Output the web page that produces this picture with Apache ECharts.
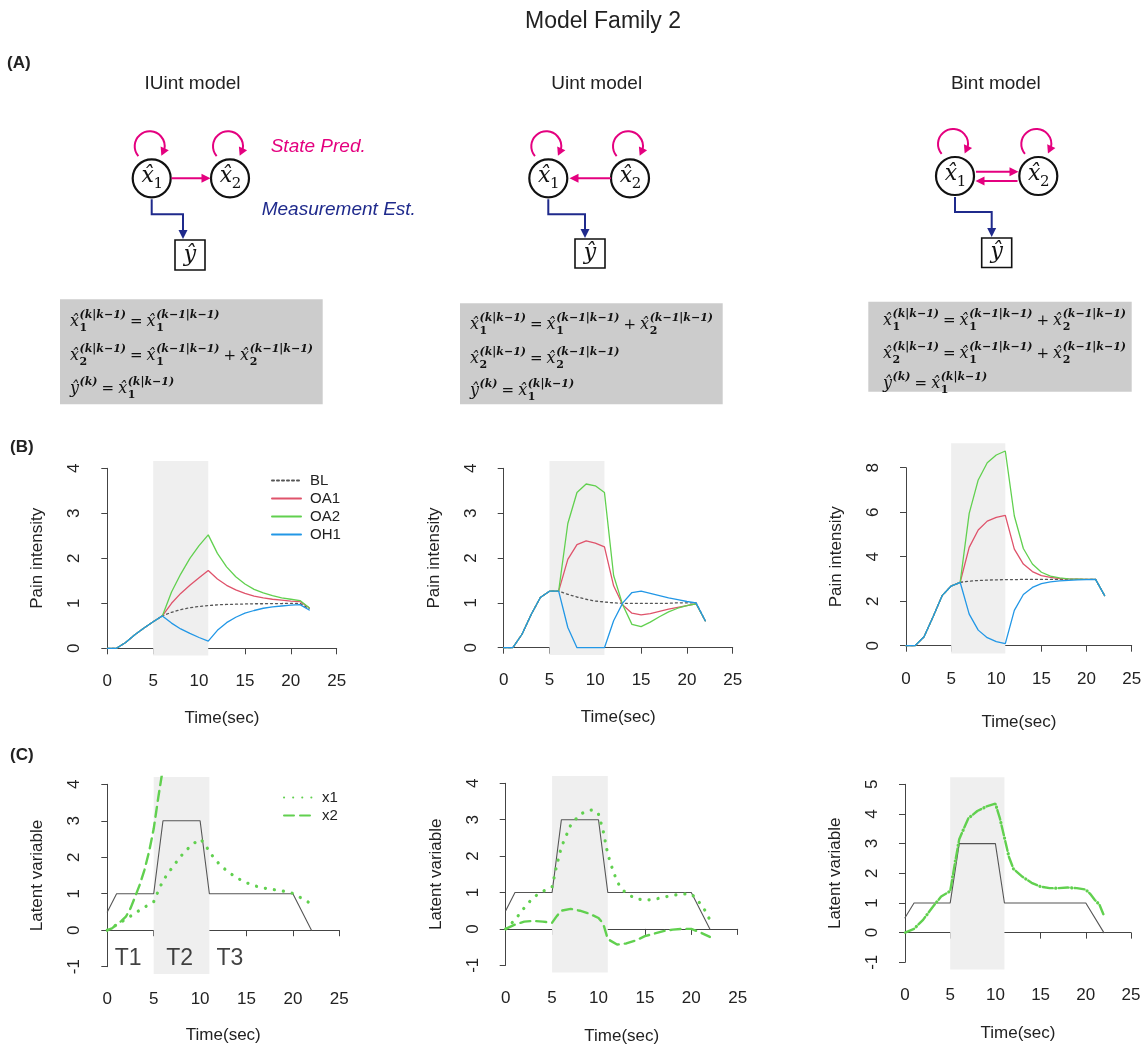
<!DOCTYPE html>
<html>
<head>
<meta charset="utf-8">
<script src="https://cdn.jsdelivr.net/npm/echarts@6/dist/echarts.min.js"></script>
<style>
  html, body { margin: 0; background: #fff; }
  #chart { width: 1146px; height: 1047px; }
</style>
</head>
<body>
<div id="chart"></div>
<script>
// ---- data ----
const secs = [0,1,2,3,4,5,6,7,8,9,10,11,12,13,14,15,16,17,18,19,20,21,22]

// (B) predicted pain, one value per second
const b1BL  = [0,0,0.13,0.3,0.45,0.59,0.72,0.8,0.86,0.9,0.93,0.95,0.965,0.975,0.98,0.985,0.99,0.99,0.995,0.995,1.0,1.0,0.88]
const b1OA1 = [0,0,0.13,0.3,0.45,0.59,0.72,1.0,1.22,1.4,1.57,1.73,1.54,1.4,1.3,1.22,1.16,1.12,1.09,1.07,1.05,1.04,0.9]
const b1OA2 = [0,0,0.13,0.3,0.45,0.59,0.72,1.25,1.65,2.0,2.28,2.52,2.11,1.81,1.59,1.43,1.31,1.23,1.17,1.12,1.09,1.06,0.9]
const b1OH1 = [0,0,0.13,0.3,0.45,0.59,0.72,0.56,0.43,0.33,0.24,0.16,0.4,0.57,0.69,0.78,0.84,0.89,0.92,0.94,0.96,0.97,0.85]

const b2BL  = [0,0,0.3,0.74,1.12,1.26,1.26,1.19,1.13,1.08,1.04,1.02,1.0,0.99,0.99,0.99,0.99,0.99,0.99,1.0,1.0,1.0,0.6]
const b2OA1 = [0,0,0.3,0.74,1.12,1.26,1.26,1.97,2.3,2.38,2.33,2.25,1.38,0.95,0.77,0.73,0.76,0.81,0.86,0.9,0.94,0.98,0.6]
const b2OA2 = [0,0,0.3,0.74,1.12,1.26,1.26,2.77,3.46,3.65,3.61,3.46,1.61,0.95,0.52,0.47,0.57,0.69,0.8,0.88,0.94,0.98,0.6]
const b2OH1 = [0,0,0.3,0.74,1.12,1.26,1.26,0.45,0,0,0,0,0.6,1.0,1.23,1.26,1.21,1.16,1.11,1.07,1.03,1.0,0.6]

const b3BL  = [0,0,0.4,1.3,2.25,2.68,2.85,2.9,2.93,2.95,2.96,2.97,2.97,2.98,2.98,2.98,2.98,2.98,2.98,2.98,2.98,2.98,2.25]
const b3OA1 = [0,0,0.4,1.3,2.25,2.68,2.85,4.42,5.2,5.6,5.77,5.86,4.34,3.67,3.33,3.15,3.07,3.02,3.0,2.99,2.98,2.98,2.25]
const b3OA2 = [0,0,0.4,1.3,2.25,2.68,2.85,5.95,7.45,8.22,8.57,8.75,5.83,4.37,3.67,3.3,3.13,3.05,3.0,2.99,2.98,2.98,2.25]
const b3OH1 = [0,0,0.4,1.3,2.25,2.68,2.85,1.42,0.7,0.36,0.18,0.09,1.59,2.3,2.62,2.79,2.87,2.91,2.94,2.96,2.97,2.98,2.25]

// (C) stimulus input and latent states
const inputT = [0,1,5,6,10,11,20,22]
const inputV = [0.5,1,1,3,3,1,1,0]

const c1X1T = [0,1,2,3,4,5,5.5,6,7,8,9,10,10.5,11,12,13,14,15,16,17,18,19,20,21,22]
const c1X1V = [0,0.15,0.3,0.47,0.63,0.78,1.08,1.36,1.72,2.05,2.32,2.5,2.38,2.14,1.83,1.6,1.43,1.3,1.21,1.15,1.11,1.07,1.01,0.87,0.72]
const c1X2T = [0,0.5,1,1.5,2,2.5,3,3.5,4,4.5,5,5.5,6,6.5]
const c1X2V = [0,0.05,0.15,0.25,0.37,0.6,0.92,1.25,1.65,2.15,2.78,3.65,4.45,5.6]

const c2X1T = [0,1,2,3,4,5,5.5,6,7,8,9,9.5,10,10.5,11,11.5,12,12.5,13,14,15,16,17,18,19,20,20.5,21,21.5,22]
const c2X1V = [0,0.25,0.58,0.87,1.03,1.15,1.75,2.25,2.85,3.15,3.26,3.27,3.15,2.7,2.05,1.65,1.3,1.1,0.98,0.83,0.79,0.81,0.87,0.92,0.96,0.96,0.84,0.68,0.5,0.25]
const c2X2T = [0,1,2,3,4,5,5.5,6,7,8,9,10,10.5,11,12,13,14,15,16,17,18,19,20,21,22]
const c2X2V = [0,0.12,0.2,0.22,0.2,0.17,0.35,0.5,0.55,0.5,0.42,0.3,0.15,-0.28,-0.43,-0.4,-0.32,-0.2,-0.13,-0.06,-0.02,0,0,-0.1,-0.22]

const c3X1T = [0,1,2,3,4,5,5.5,6,7,8,9,10,10.5,11,11.5,12,13,14,15,16,17,18,19,20,20.5,21,21.5,22]
const c3X1V = [0,0.13,0.43,0.84,1.22,1.4,2.3,3.15,3.85,4.1,4.25,4.35,3.85,3.2,2.55,2.15,1.88,1.68,1.55,1.5,1.5,1.52,1.5,1.45,1.3,1.1,0.95,0.58]
const c3X2T = c3X1T
const c3X2V = c3X1V

const phaseLabels = ['T1', 'T2', 'T3']
const phaseX = [2.25, 7.8, 13.2]
const phaseY = [-0.77, -0.77, -0.77]

// ---- layout ----
const FONT = '"Liberation Sans", Arial, sans-serif'
const SERIF = '"DejaVu Serif", serif'
const MAG = '#E4007F'
const NAVY = '#1F2A8C'
const col = { BL: '#555555', OA1: '#DF536B', OA2: '#61D04F', OH1: '#2297E6' }
const GREEN = '#61D04F'
const SHADE = '#EFEFEF'

// pixel frame of each panel: x=0 / x=25 and lowest / highest y tick
const panels = [
    { x0: 107.3, x25: 336.7, yTop: 468.3, yBot: 648.3, yMin: 0, yMax: 4, yStep: 1, lo: -0.16, hi: 4.16, yName: 'Pain intensity', xGap: 54 },
    { x0: 503.7, x25: 732.7, yTop: 468.3, yBot: 647.7, yMin: 0, yMax: 4, yStep: 1, lo: -0.16, hi: 4.16, yName: 'Pain intensity', xGap: 54 },
    { x0: 906, x25: 1131.7, yTop: 467.7, yBot: 645.7, yMin: 0, yMax: 8, yStep: 2, lo: -0.35, hi: 9.1, yName: 'Pain intensity', xGap: 60 },
    { x0: 107.3, x25: 339.3, yTop: 784.3, yBot: 966.7, yMin: -1, yMax: 4, yStep: 1, lo: -1.2, hi: 4.2, yName: 'Latent variable', xGap: 53 },
    { x0: 505.7, x25: 737.7, yTop: 783.3, yBot: 965.3, yMin: -1, yMax: 4, yStep: 1, lo: -1.2, hi: 4.2, yName: 'Latent variable', xGap: 55 },
    { x0: 905, x25: 1131, yTop: 784.3, yBot: 962.3, yMin: -1, yMax: 5, yStep: 1, lo: -1.24, hi: 5.24, yName: 'Latent variable', xGap: 55 }
]

const grids = [], xAxes = [], yAxes = []
panels.forEach(function(p, i) {
    const ppx = (p.x25 - p.x0) / 25
    const ppy = (p.yBot - p.yTop) / (p.yMax - p.yMin)
    // plot region (R's usr), holds the data
    grids.push({ left: p.x0 - ppx, top: p.yTop - (p.hi - p.yMax) * ppy, width: 27 * ppx, height: (p.hi - p.lo) * ppy, outerBoundsMode: 'none' })
    // tick range frame, holds the detached axes
    grids.push({ left: p.x0, top: p.yTop, width: p.x25 - p.x0, height: p.yBot - p.yTop, outerBoundsMode: 'none' })
    xAxes.push({ gridIndex: 2 * i, type: 'value', min: -1, max: 26, show: false })
    yAxes.push({ gridIndex: 2 * i, type: 'value', min: p.lo, max: p.hi, show: false })
    xAxes.push({
        gridIndex: 2 * i + 1, type: 'value', min: 0, max: 25, interval: 5,
        offset: (p.yMin - p.lo) * ppy,
        name: 'Time(sec)', nameLocation: 'middle', nameGap: p.xGap, nameMoveOverlap: false,
        nameTextStyle: { fontSize: 17, color: '#222', fontFamily: FONT },
        axisLine: { show: true, lineStyle: { color: '#444', width: 1 } },
        axisTick: { show: true, length: 6, lineStyle: { color: '#444' } },
        axisLabel: { fontSize: 17, color: '#222', margin: 17, fontFamily: FONT },
        splitLine: { show: false }
    })
    yAxes.push({
        gridIndex: 2 * i + 1, type: 'value', min: p.yMin, max: p.yMax, interval: p.yStep,
        offset: ppx,
        name: p.yName, nameLocation: 'middle', nameGap: 52, nameMoveOverlap: false,
        nameTextStyle: { fontSize: 17, color: '#222', fontFamily: FONT },
        axisLine: { show: true, lineStyle: { color: '#444', width: 1 } },
        axisTick: { show: true, length: 6, lineStyle: { color: '#444' } },
        axisLabel: { fontSize: 17, color: '#222', margin: 15, rotate: 90, fontFamily: FONT },
        splitLine: { show: false }
    })
})

function pairs(xs, ys) {
    return xs.map(function(x, k) { return [x, ys[k]] })
}

function line(name, xs, ys, gi, color, width, type, shade, dashOffset) {
    const s = {
        type: 'line', name: name, xAxisIndex: gi, yAxisIndex: gi,
        data: pairs(xs, ys), symbol: 'none', clip: true, silent: true,
        itemStyle: { color: color },
        lineStyle: { color: color, width: width, type: type || 'solid', cap: 'round', dashOffset: dashOffset || 0 },
        z: 3
    }
    if (shade) {
        s.z = 2
        s.markArea = { silent: true, itemStyle: { color: SHADE }, data: [[{ xAxis: 5 }, { xAxis: 11 }]] }
    }
    return s
}

const bSets = [[b1BL, b1OA1, b1OA2, b1OH1], [b2BL, b2OA1, b2OA2, b2OH1], [b3BL, b3OA1, b3OA2, b3OH1]]
const cSets = [[c1X1T, c1X1V, c1X2T, c1X2V], [c2X1T, c2X1V, c2X2T, c2X2V], [c3X1T, c3X1V, c3X2T, c3X2V]]

const series = []
bSets.forEach(function(set, i) {
    const gi = 2 * i
    series.push(line('BL', secs, set[0], gi, col.BL, 1.3, [2, 3], true))
    series.push(line('OA1', secs, set[1], gi, col.OA1, 1.3))
    series.push(line('OA2', secs, set[2], gi, col.OA2, 1.3))
    series.push(line('OH1', secs, set[3], gi, col.OH1, 1.3))
})
cSets.forEach(function(set, i) {
    const gi = 2 * (i + 3)
    series.push(line('input', inputT, inputV, gi, '#555555', 1.1, 'solid', true))
    // in the last panel both states coincide: put the dots into the dash gaps
    if (i === 2) {
        series.push(line('x1', set[0], set[1], gi, GREEN, 3.2, [0.1, 15.9], false, 3))
    } else {
        series.push(line('x1', set[0], set[1], gi, GREEN, 3.2, [0.1, 9]))
    }
    series.push(line('x2', set[2], set[3], gi, GREEN, 2.4, [10, 6]))
})
series.push({
    type: 'scatter', name: 'phase', xAxisIndex: 6, yAxisIndex: 6, silent: true,
    data: phaseLabels.map(function(t, k) { return { name: t, value: [phaseX[k], phaseY[k]] } }),
    symbolSize: 1, itemStyle: { color: 'rgba(0,0,0,0)' },
    label: { show: true, position: 'inside', formatter: function(p) { return p.name }, fontSize: 23, color: '#111', fontFamily: FONT },
    z: 4
})

// ---- panel (A): diagrams and equation boxes ----
const g = []
function txt(x, y, s, o) {
    o = o || {}
    return {
        type: 'text', x: x, y: y, silent: true, z: 10,
        style: {
            text: s, fontSize: o.size || 17, fontFamily: o.family || FONT,
            fontStyle: o.style || 'normal', fontWeight: o.weight || 'normal',
            fill: o.color || '#222', align: o.align || 'left', verticalAlign: 'middle'
        }
    }
}
function head(tx, ty, dx, dy, color, len, hw) {
    len = len || 9; hw = hw || 4.5
    const n = Math.hypot(dx, dy); dx /= n; dy /= n
    const bx = tx - dx * len, by = ty - dy * len
    return { type: 'polygon', silent: true, z: 10, shape: { points: [[tx, ty], [bx - dy * hw, by + dx * hw], [bx + dy * hw, by - dx * hw]] }, style: { fill: color } }
}
function arrow(x1, y1, x2, y2, color) {
    const dx = x2 - x1, dy = y2 - y1, n = Math.hypot(dx, dy)
    g.push({ type: 'line', silent: true, z: 10, shape: { x1: x1, y1: y1, x2: x2 - dx / n * 7, y2: y2 - dy / n * 7 }, style: { stroke: color, lineWidth: 2 } })
    g.push(head(x2, y2, dx, dy, color))
}
function loop(cx, cy) {
    const lx = cx - 2, ly = cy - 32, r = 15
    const a0 = 2.43, a1 = 0.68 + 2 * Math.PI, ab = a1 - 0.5
    g.push({ type: 'arc', silent: true, z: 10, shape: { cx: lx, cy: ly, r: r, startAngle: a0, endAngle: ab + 0.05, clockwise: true }, style: { stroke: MAG, lineWidth: 2, fill: null } })
    const tx = lx + r * Math.cos(a1), ty = ly + r * Math.sin(a1)
    const bx = lx + r * Math.cos(ab), by = ly + r * Math.sin(ab)
    g.push(head(tx, ty, tx - bx, ty - by, MAG, 8, 4.5))
}
function node(cx, cy, sub) {
    g.push({ type: 'circle', silent: true, z: 10, shape: { cx: cx, cy: cy, r: 19 }, style: { fill: '#fff', stroke: '#111', lineWidth: 2.2 } })
    g.push(txt(cx - 4, cy - 2, 'x\u0302', { size: 22, family: SERIF, style: 'italic', align: 'center', color: '#111' }))
    g.push(txt(cx + 6.5, cy + 6, sub, { size: 15, family: SERIF, align: 'center', color: '#111' }))
    loop(cx, cy)
}
function measure(cx, cy, bx, boxX, boxY, boxW, boxH) {
    g.push({ type: 'polyline', silent: true, z: 10, shape: { points: [[cx, cy + 21], [cx, cy + 36], [bx, cy + 36], [bx, boxY - 8]] }, style: { stroke: NAVY, lineWidth: 2, fill: null } })
    g.push(head(bx, boxY - 1, 0, 1, NAVY))
    g.push({ type: 'rect', silent: true, z: 10, shape: { x: boxX, y: boxY, width: boxW, height: boxH }, style: { fill: '#fff', stroke: '#111', lineWidth: 1.6 } })
    g.push(txt(boxX + boxW / 2, boxY + boxH / 2, '\u0177', { size: 22, family: SERIF, style: 'italic', align: 'center', color: '#111' }))
}

g.push(txt(603, 22, 'Model Family 2', { size: 23, align: 'center' }))
g.push(txt(7, 63, '(A)', { size: 17, weight: 'bold' }))
g.push(txt(10, 447, '(B)', { size: 17, weight: 'bold' }))
g.push(txt(10, 755, '(C)', { size: 17, weight: 'bold' }))
g.push(txt(192.5, 83.5, 'IUint model', { size: 19, align: 'center' }))
g.push(txt(596.7, 83.5, 'Uint model', { size: 19, align: 'center' }))
g.push(txt(995.8, 83.5, 'Bint model', { size: 19, align: 'center' }))
g.push(txt(270.7, 147, 'State Pred.', { size: 19, style: 'italic', color: MAG }))
g.push(txt(261.7, 210, 'Measurement Est.', { size: 19, style: 'italic', color: NAVY }))

// IUint
node(151.7, 178.3, '1'); node(230, 178.3, '2')
arrow(171.5, 178.3, 210.5, 178.3, MAG)
measure(151.7, 178.3, 183, 175, 240, 30, 30)
// Uint
node(548.3, 178.3, '1'); node(630, 178.3, '2')
arrow(611, 178.3, 569.5, 178.3, MAG)
measure(548.3, 178.3, 585, 575, 239, 30, 29)
// Bint
node(955, 176, '1'); node(1038.3, 176, '2')
arrow(976, 171.7, 1018.5, 171.7, MAG)
arrow(1017.5, 181, 975.5, 181, MAG)
measure(955, 176, 991.7, 981.7, 238, 30, 29.5)

// equation boxes
const mctx = document.createElement('canvas').getContext('2d')
function tw(s, size, style, weight) {
    mctx.font = (style || 'normal') + ' ' + (weight || 'normal') + ' ' + size + 'px ' + SERIF
    return mctx.measureText(s).width
}
function eq(x, y, toks) {
    toks.forEach(function(t) {
        if (t.op) {
            x += 4
            g.push(txt(x, y, t.op, { size: 15, family: SERIF, color: '#111' }))
            x += tw(t.op, 15) + 4
            return
        }
        g.push(txt(x, y, t.b, { size: 16, family: SERIF, style: 'italic', color: '#111' }))
        const bw = tw(t.b, 16, 'italic') + 0.5
        let w = 0
        if (t.sup) {
            g.push(txt(x + bw, y - 7, t.sup, { size: 11, family: SERIF, style: 'italic', weight: 'bold', color: '#111' }))
            w = Math.max(w, tw(t.sup, 11, 'italic', 'bold'))
        }
        if (t.sub) {
            g.push(txt(x + bw, y + 6, t.sub, { size: 11, family: SERIF, weight: 'bold', color: '#111' }))
            w = Math.max(w, tw(t.sub, 11, 'normal', 'bold'))
        }
        x += bw + w
    })
}
const P = '(k|k\u22121)', Q = '(k\u22121|k\u22121)', XH = 'x\u0302'
const EQ = { op: '=' }, PL = { op: '+' }
const yk = [{ b: '\u0177', sup: '(k)' }, EQ, { b: XH, sub: '1', sup: P }]
const boxes = [
    { x: 60, y: 299.3, w: 262.7, h: 105, tx: 70, ly: [322, 356, 389], lines: [
        [{ b: XH, sub: '1', sup: P }, EQ, { b: XH, sub: '1', sup: Q }],
        [{ b: XH, sub: '2', sup: P }, EQ, { b: XH, sub: '1', sup: Q }, PL, { b: XH, sub: '2', sup: Q }],
        yk] },
    { x: 460, y: 303.3, w: 262.7, h: 101, tx: 470, ly: [325, 359, 391], lines: [
        [{ b: XH, sub: '1', sup: P }, EQ, { b: XH, sub: '1', sup: Q }, PL, { b: XH, sub: '2', sup: Q }],
        [{ b: XH, sub: '2', sup: P }, EQ, { b: XH, sub: '2', sup: Q }],
        yk] },
    { x: 868.3, y: 301.7, w: 263.4, h: 90, tx: 883, ly: [321, 354, 384], lines: [
        [{ b: XH, sub: '1', sup: P }, EQ, { b: XH, sub: '1', sup: Q }, PL, { b: XH, sub: '2', sup: Q }],
        [{ b: XH, sub: '2', sup: P }, EQ, { b: XH, sub: '1', sup: Q }, PL, { b: XH, sub: '2', sup: Q }],
        yk] }
]
boxes.forEach(function(b) {
    g.push({ type: 'rect', silent: true, z: 9, shape: { x: b.x, y: b.y, width: b.w, height: b.h }, style: { fill: '#CCCCCC' } })
    b.lines.forEach(function(l, k) { eq(b.tx, b.ly[k], l) })
})

const legendText = { fontSize: 15, color: '#222', fontFamily: FONT, padding: [0, 0, 0, 4] }
const legendBase = { orient: 'vertical', itemWidth: 29, itemHeight: 12, itemGap: 3, selectedMode: false, textStyle: legendText, itemStyle: { opacity: 0 } }
const chart = echarts.init(document.getElementById('chart'), null, { renderer: 'canvas' })
chart.setOption({
    animation: false,
    backgroundColor: '#fff',
    textStyle: { fontFamily: FONT },
    grid: grids,
    xAxis: xAxes,
    yAxis: yAxes,
    legend: [
        Object.assign({ data: ['BL', 'OA1', 'OA2', 'OH1'], left: 266, top: 468 }, legendBase),
        Object.assign({ data: ['x1', 'x2'], left: 278, top: 785 }, legendBase)
    ],
    series: series,
    graphic: g
})
</script>
</body>
</html>
